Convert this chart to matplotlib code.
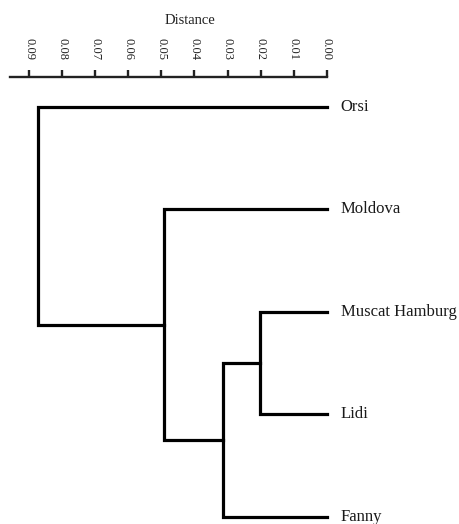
import matplotlib
matplotlib.use("Agg")
import matplotlib.pyplot as plt

# Data
leaf_labels = ["Orsi", "Moldova", "Muscat Hamburg", "Lidi", "Fanny"]
merge_left = [2, 5, 1, 0]      # node ids (0-4 leaves, 5+ clusters)
merge_right = [3, 4, 6, 7]
merge_height = [0.0202, 0.0314, 0.0491, 0.0872]
tick_values = [0.09, 0.08, 0.07, 0.06, 0.05, 0.04, 0.03, 0.02, 0.01, 0.00]
tick_labels = ["0.09", "0.08", "0.07", "0.06", "0.05", "0.04", "0.03", "0.02", "0.01", "0.00"]

plt.rcParams['font.family'] = ['Liberation Serif', 'DejaVu Serif']

fig = plt.figure(figsize=(4.59, 5.24), dpi=100)
ax = fig.add_axes([10 / 459, 0.0, (326.7 - 10) / 459, (524 - 76.7) / 524])

# node positions
node_x = [0.0] * len(leaf_labels)
node_y = list(range(len(leaf_labels)))
for a, b, h in zip(merge_left, merge_right, merge_height):
    xs = [node_x[a], h, h, node_x[b]]
    ys = [node_y[a], node_y[a], node_y[b], node_y[b]]
    ax.plot(xs, ys, color="black", lw=2.3, solid_capstyle="projecting",
            solid_joinstyle="miter", clip_on=False)
    node_x.append(h)
    node_y.append((node_y[a] + node_y[b]) / 2)

for i, lab in enumerate(leaf_labels):
    ax.annotate(lab, xy=(0, i), xytext=(10, 0), textcoords="offset points",
                ha="left", va="center", fontsize=12, color="#1a1a1a",
                annotation_clip=False)

ax.set_xlim(0.0958, 0.0)
ax.set_ylim(4.068, -0.292)

for s in ["left", "right", "bottom"]:
    ax.spines[s].set_visible(False)
ax.spines["top"].set_linewidth(1.7)
ax.spines["top"].set_color("#222222")
ax.xaxis.tick_top()
ax.set_xticks(tick_values)
ax.set_xticklabels(tick_labels, rotation=-90, fontsize=9)
ax.tick_params(axis="x", direction="out", length=5, width=1.7, pad=7,
               colors="#222222")
ax.set_yticks([])

fig.text(189.7 / 459, 1 - 20 / 524, "Distance", ha="center", va="center",
         fontsize=10.5, color="#222222")

fig.savefig("out.png", dpi=100)
